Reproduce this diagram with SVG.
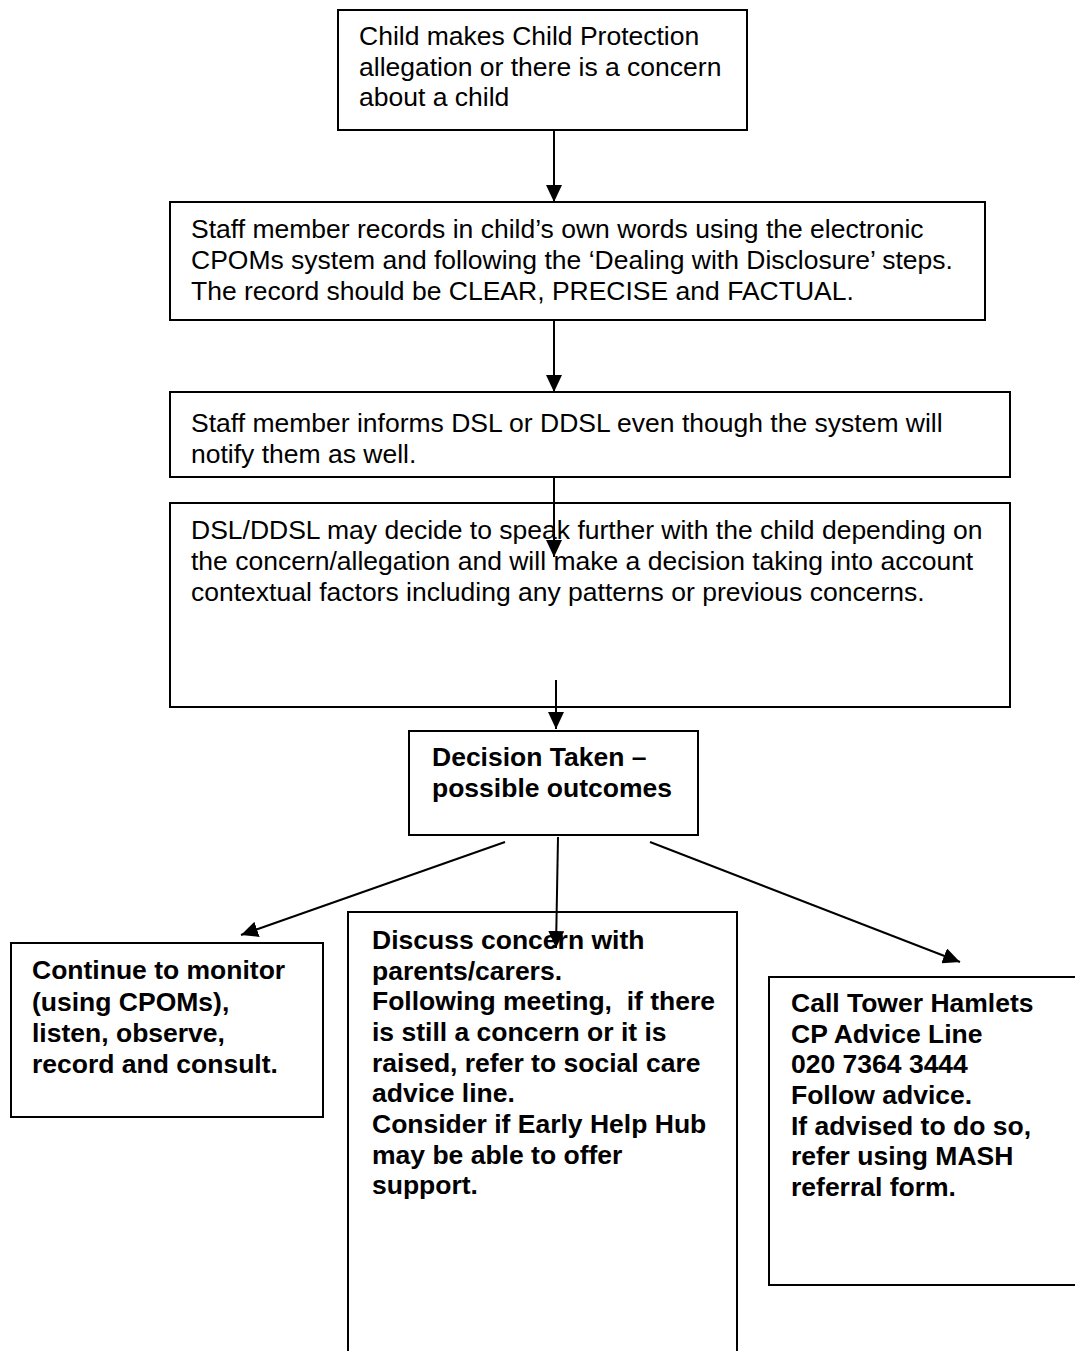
<svg xmlns="http://www.w3.org/2000/svg" width="1075" height="1351" viewBox="0 0 1075 1351">
<style>
.box{fill:#fff;stroke:#000;stroke-width:2}
.t{font-family:"Liberation Sans",Arial,sans-serif;font-size:26.5px;fill:#000;white-space:pre}
.b{font-weight:bold}
.c{stroke:#000;stroke-width:2;fill:none}
</style>
<defs>
<marker id="ah" markerUnits="userSpaceOnUse" markerWidth="18" markerHeight="16" refX="17" refY="8" orient="auto">
<path d="M0,0 L17,8 L0,16 z" fill="#000"/>
</marker>
</defs>
<rect width="1075" height="1351" fill="#fff"/>
<g id="n1">
<rect class="box" x="338" y="10" width="409" height="120"/>
<text class="t"><tspan x="359" y="45">Child makes Child Protection</tspan><tspan x="359" y="76">allegation or there is a concern</tspan><tspan x="359" y="106">about a child</tspan></text>
</g>
<g id="n2">
<rect class="box" x="170" y="202" width="815" height="118"/>
<text class="t"><tspan x="191" y="238">Staff member records in child’s own words using the electronic</tspan><tspan x="191" y="269">CPOMs system and following the ‘Dealing with Disclosure’ steps.</tspan><tspan x="191" y="300">The record should be CLEAR, PRECISE and FACTUAL.</tspan></text>
</g>
<g id="n3">
<rect class="box" x="170" y="392" width="840" height="85"/>
<text class="t"><tspan x="191" y="432">Staff member informs DSL or DDSL even though the system will</tspan><tspan x="191" y="463">notify them as well.</tspan></text>
</g>
<g id="n4">
<rect class="box" x="170" y="503" width="840" height="204"/>
<text class="t"><tspan x="191" y="539">DSL/DDSL may decide to speak further with the child depending on</tspan><tspan x="191" y="570">the concern/allegation and will make a decision taking into account</tspan><tspan x="191" y="601">contextual factors including any patterns or previous concerns.</tspan></text>
</g>
<g id="n5">
<rect class="box" x="409" y="731" width="289" height="104"/>
<text class="t b"><tspan x="432" y="766">Decision Taken –</tspan><tspan x="432" y="797">possible outcomes</tspan></text>
</g>
<g id="n6">
<rect class="box" x="11" y="943" width="312" height="174"/>
<text class="t b"><tspan x="32" y="979">Continue to monitor</tspan><tspan x="32" y="1011">(using CPOMs),</tspan><tspan x="32" y="1042">listen, observe,</tspan><tspan x="32" y="1073">record and consult.</tspan></text>
</g>
<g id="n7">
<path class="box" d="M348,1370 V912 H737 V1370"/>
<text class="t b"><tspan x="372" y="949">Discuss concern with</tspan><tspan x="372" y="980">parents/carers.</tspan><tspan x="372" y="1010">Following meeting,  if there</tspan><tspan x="372" y="1041">is still a concern or it is</tspan><tspan x="372" y="1072">raised, refer to social care</tspan><tspan x="372" y="1102">advice line.</tspan><tspan x="372" y="1133">Consider if Early Help Hub</tspan><tspan x="372" y="1164">may be able to offer</tspan><tspan x="372" y="1194">support.</tspan></text>
</g>
<g id="n8">
<rect class="box" x="769" y="977" width="330" height="308"/>
<text class="t b"><tspan x="791" y="1012">Call Tower Hamlets</tspan><tspan x="791" y="1043">CP Advice Line</tspan><tspan x="791" y="1073">020 7364 3444</tspan><tspan x="791" y="1104">Follow advice.</tspan><tspan x="791" y="1135">If advised to do so,</tspan><tspan x="791" y="1165">refer using MASH</tspan><tspan x="791" y="1196">referral form.</tspan></text>
</g>
<g id="connectors">
<line class="c" x1="554" y1="130" x2="554" y2="202" marker-end="url(#ah)"/>
<line class="c" x1="554" y1="320" x2="554" y2="392" marker-end="url(#ah)"/>
<line class="c" x1="554" y1="477" x2="554" y2="557" marker-end="url(#ah)"/>
<line class="c" x1="556" y1="680" x2="556" y2="729" marker-end="url(#ah)"/>
<line class="c" x1="505" y1="842" x2="241" y2="935" marker-end="url(#ah)"/>
<line class="c" x1="558" y1="837" x2="556" y2="948" marker-end="url(#ah)"/>
<line class="c" x1="650" y1="842" x2="960" y2="962" marker-end="url(#ah)"/>
</g>
</svg>
